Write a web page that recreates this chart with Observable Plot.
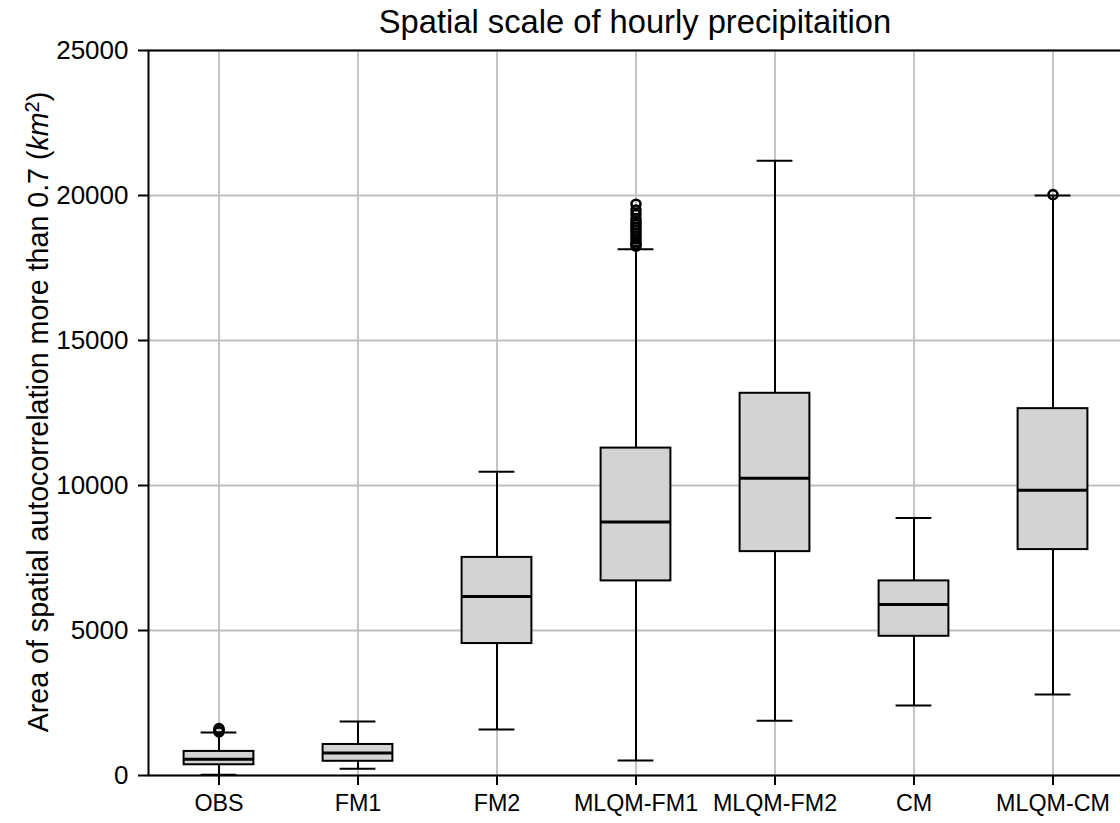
<!DOCTYPE html>
<html>
<head>
<meta charset="utf-8">
<script src="https://cdn.jsdelivr.net/npm/d3@7"></script>
<script src="https://cdn.jsdelivr.net/npm/@observablehq/plot@0.6"></script>
<style>
  html, body { margin: 0; padding: 0; background: #fff; overflow: hidden; width: 1120px; height: 823px; }
  #title { position: relative; margin-left: 148px; width: 974px; height: 45px; text-align: center;
           font-family: "Liberation Sans", Arial, sans-serif; font-size: 32.7px; line-height: 32.7px;
           padding-top: 6px; box-sizing: border-box; color: #000; white-space: nowrap; }
  #chart { width: 1124px; }
  #chart svg { display: block; max-width: none !important; width: 1124px; height: 778px; }
</style>
</head>
<body>
<div id="title">Spatial scale of hourly precipitaition</div>
<div id="chart"></div>
<script>
// ---- data ----
const categories  = ["OBS", "FM1", "FM2", "MLQM-FM1", "MLQM-FM2", "CM", "MLQM-CM"];
const whiskerLow  = [30,   230,  1590,  520,   1890,  2410, 2790];
const q1          = [370,  490,  4550,  6710,  7720,  4800, 7790];
const median      = [560,  780,  6170,  8740,  10250, 5900, 9840];
const q3          = [830,  1070, 7520,  11290, 13180, 6710, 12650];
const whiskerHigh = [1480, 1860, 10470, 18150, 21200, 8880, 20000];
const outlierCats = ["OBS", "OBS", "OBS", "OBS",
  "MLQM-FM1", "MLQM-FM1", "MLQM-FM1", "MLQM-FM1", "MLQM-FM1", "MLQM-FM1", "MLQM-FM1",
  "MLQM-FM1", "MLQM-FM1", "MLQM-FM1", "MLQM-FM1", "MLQM-FM1", "MLQM-FM1", "MLQM-FM1",
  "MLQM-CM"];
const outlierVals = [1500, 1540, 1580, 1620,
  18250, 18320, 18400, 18500, 18600, 18700, 18800,
  18900, 19000, 19100, 19200, 19350, 19500, 19700,
  20030];
const yTicks = [0, 5000, 10000, 15000, 20000, 25000];
const yLabel = "Area of spatial autocorrelation more than 0.7 (km2)";

const rows = categories.map((c, i) => ({cat: c, lo: whiskerLow[i], q1: q1[i], med: median[i], q3: q3[i], hi: whiskerHigh[i]}));
const outliers = outlierCats.map((c, i) => ({cat: c, v: outlierVals[i]}));

const boxInset = 34.6, capInset = 51.6;
const font = "Liberation Sans, Arial, sans-serif";

const chart = Plot.plot({
  width: 1124,
  height: 778,
  marginTop: 5,
  marginBottom: 48,
  marginLeft: 148,
  marginRight: 1.6,
  style: {fontFamily: font, background: "white", color: "black", overflow: "visible", maxWidth: "none"},
  x: {domain: categories, padding: 0, label: null},
  y: {domain: [0, 25000], label: null},
  marks: [
    Plot.gridX(categories, {stroke: "#bfbfbf", strokeOpacity: 1, strokeWidth: 1.8}),
    Plot.gridY(yTicks, {stroke: "#bfbfbf", strokeOpacity: 1, strokeWidth: 1.8}),
    Plot.ruleX(rows, {x: "cat", y1: "lo", y2: "hi", stroke: "black", strokeWidth: 2}),
    Plot.barY(rows, {x: "cat", y1: "q1", y2: "q3", fill: "#d3d3d3", stroke: "black", strokeWidth: 2,
                     insetLeft: boxInset, insetRight: boxInset}),
    Plot.tickY(rows, {x: "cat", y: "med", stroke: "black", strokeWidth: 3, insetLeft: boxInset, insetRight: boxInset}),
    Plot.tickY(rows, {x: "cat", y: "lo", stroke: "black", strokeWidth: 2, insetLeft: capInset, insetRight: capInset}),
    Plot.tickY(rows, {x: "cat", y: "hi", stroke: "black", strokeWidth: 2, insetLeft: capInset, insetRight: capInset}),
    Plot.dot(outliers, {x: "cat", y: "v", r: 4.5, stroke: "black", strokeWidth: 2.6, fill: "none"}),
    Plot.axisX({tickSize: 10, tickPadding: 9, fontSize: 23.3, stroke: "black", strokeWidth: 2, fill: "black"}),
    Plot.axisY(yTicks, {tickSize: 10, tickPadding: 10, fontSize: 26, stroke: "black", strokeWidth: 2, fill: "black",
                        tickFormat: d => String(d)}),
    Plot.text([yLabel], {frameAnchor: "left", rotate: -90, dx: -110, dy: -1, fontSize: 28.6, fill: "black",
                         textAnchor: "middle"}),
    Plot.frame({stroke: "black", strokeWidth: 2})
  ]
});
document.getElementById("chart").appendChild(chart);

// rebuild the y label with an italic "km" and a superscript "2"
d3.select(chart).selectAll("text").filter(function() { return this.textContent === yLabel; }).each(function() {
  const t = d3.select(this);
  t.text(null);
  t.append("tspan").text("Area of spatial autocorrelation more than 0.7 (");
  t.append("tspan").attr("font-style", "italic").text("km");
  t.append("tspan").attr("font-size", "0.7em").attr("dy", "-0.45em").text("2");
  t.append("tspan").attr("dy", "0.315em").text(")");
});
</script>
</body>
</html>
